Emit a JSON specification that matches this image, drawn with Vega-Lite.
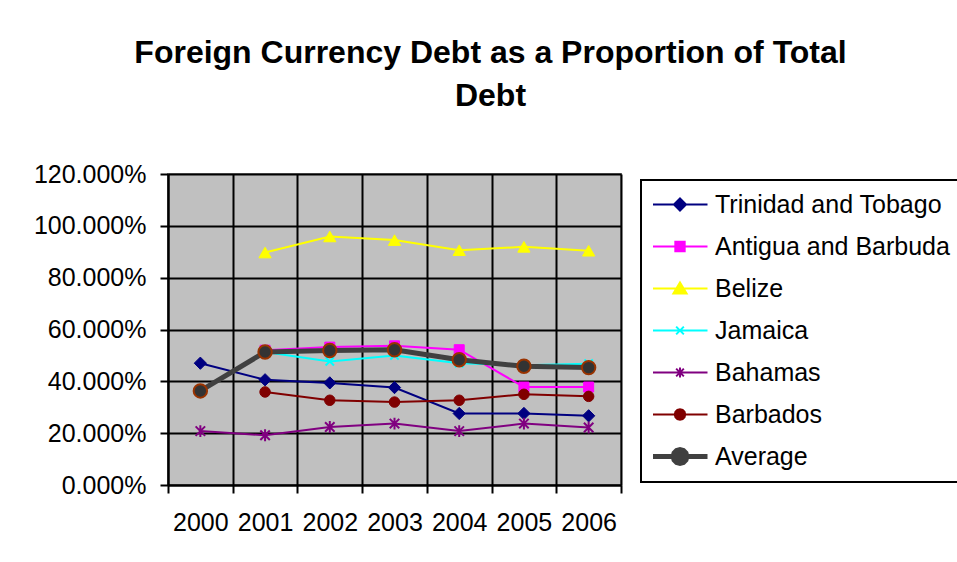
{
  "$schema": "https://vega.github.io/schema/vega-lite/v6.json",
  "autosize": {"type": "none"},
  "padding": {"left": 168, "top": 174, "right": 336, "bottom": 77},
  "width": 453,
  "height": 311,
  "background": "white",
  "config": {
    "font": "Liberation Sans",
    "view": {"fill": "#C0C0C0", "stroke": "#808080", "strokeWidth": 2},
    "axis": {
      "labelFontSize": 25, "labelColor": "black", "labelFont": "Liberation Sans",
      "tickColor": "black", "tickSize": 8, "tickWidth": 2,
      "domainColor": "black", "domainWidth": 2,
      "gridColor": "black", "gridWidth": 2, "gridOpacity": 1, "title": null
    },
    "legend": {"strokeColor": "black", "strokeWidth": 2, "fillColor": "white"}
  },
  "title": {
    "text": ["Foreign Currency Debt as a Proportion of Total", "Debt"],
    "font": "Liberation Sans", "fontSize": 32, "fontWeight": "bold", "color": "black",
    "anchor": "middle", "frame": "group", "dx": 96, "offset": 49, "lineHeight": 43
  },
  "data": {"values": [
    {"year": "2000", "series": "Trinidad and Tobago", "value": 0.47},
    {"year": "2001", "series": "Trinidad and Tobago", "value": 0.406},
    {"year": "2002", "series": "Trinidad and Tobago", "value": 0.394},
    {"year": "2003", "series": "Trinidad and Tobago", "value": 0.376},
    {"year": "2004", "series": "Trinidad and Tobago", "value": 0.276},
    {"year": "2005", "series": "Trinidad and Tobago", "value": 0.276},
    {"year": "2006", "series": "Trinidad and Tobago", "value": 0.267},
    {"year": "2001", "series": "Antigua and Barbuda", "value": 0.52},
    {"year": "2002", "series": "Antigua and Barbuda", "value": 0.532},
    {"year": "2003", "series": "Antigua and Barbuda", "value": 0.537},
    {"year": "2004", "series": "Antigua and Barbuda", "value": 0.522},
    {"year": "2005", "series": "Antigua and Barbuda", "value": 0.378},
    {"year": "2006", "series": "Antigua and Barbuda", "value": 0.378},
    {"year": "2001", "series": "Belize", "value": 0.897},
    {"year": "2002", "series": "Belize", "value": 0.959},
    {"year": "2003", "series": "Belize", "value": 0.945},
    {"year": "2004", "series": "Belize", "value": 0.906},
    {"year": "2005", "series": "Belize", "value": 0.919},
    {"year": "2006", "series": "Belize", "value": 0.904},
    {"year": "2000", "series": "Jamaica", "value": 0.365},
    {"year": "2001", "series": "Jamaica", "value": 0.513},
    {"year": "2002", "series": "Jamaica", "value": 0.477},
    {"year": "2003", "series": "Jamaica", "value": 0.5},
    {"year": "2004", "series": "Jamaica", "value": 0.47},
    {"year": "2005", "series": "Jamaica", "value": 0.462},
    {"year": "2006", "series": "Jamaica", "value": 0.468},
    {"year": "2000", "series": "Bahamas", "value": 0.208},
    {"year": "2001", "series": "Bahamas", "value": 0.192},
    {"year": "2002", "series": "Bahamas", "value": 0.224},
    {"year": "2003", "series": "Bahamas", "value": 0.237},
    {"year": "2004", "series": "Bahamas", "value": 0.208},
    {"year": "2005", "series": "Bahamas", "value": 0.237},
    {"year": "2006", "series": "Bahamas", "value": 0.222},
    {"year": "2001", "series": "Barbados", "value": 0.359},
    {"year": "2002", "series": "Barbados", "value": 0.327},
    {"year": "2003", "series": "Barbados", "value": 0.32},
    {"year": "2004", "series": "Barbados", "value": 0.327},
    {"year": "2005", "series": "Barbados", "value": 0.35},
    {"year": "2006", "series": "Barbados", "value": 0.342},
    {"year": "2000", "series": "Average", "value": 0.363},
    {"year": "2001", "series": "Average", "value": 0.513},
    {"year": "2002", "series": "Average", "value": 0.519},
    {"year": "2003", "series": "Average", "value": 0.522},
    {"year": "2004", "series": "Average", "value": 0.483},
    {"year": "2005", "series": "Average", "value": 0.458},
    {"year": "2006", "series": "Average", "value": 0.453}
  ]},
  "encoding": {
    "x": {
      "field": "year", "type": "ordinal",
      "scale": {"type": "band", "paddingInner": 0, "paddingOuter": 0},
      "axis": {"tickBand": "extent", "labelAngle": 0, "labelPadding": 17, "grid": true}
    },
    "y": {
      "field": "value", "type": "quantitative",
      "scale": {"domain": [0, 1.2], "nice": false, "zero": true},
      "axis": {"values": [0, 0.2, 0.4, 0.6, 0.8, 1.0, 1.2], "format": ".3%", "labelPadding": 14, "grid": true}
    }
  },
  "layer": [
    {
      "transform": [{"filter": "datum.series !== 'Average'"}],
      "mark": {"type": "line", "strokeWidth": 2},
      "encoding": {
        "color": {
          "field": "series", "type": "nominal",
          "scale": {
            "domain": ["Trinidad and Tobago", "Antigua and Barbuda", "Belize", "Jamaica", "Bahamas", "Barbados", "Average"],
            "range": ["#000080", "#FF00FF", "#FFFF00", "#00FFFF", "#800080", "#800000", "#404040"]
          },
          "legend": {
            "orient": "none", "legendX": 473, "legendY": 6,
            "title": null, "symbolType": "circle", "clipHeight": 25,
            "padding": 12, "rowPadding": 16, "symbolSize": 121,
            "symbolOffset": 14.5, "labelOffset": 22.5,
            "labelFontSize": 25, "labelFont": "Liberation Sans", "labelColor": "black", "labelLimit": 400,
            "encode": {
              "symbols": {
                "update": {
                  "shape": {"signal": "datum.value === 'Trinidad and Tobago' ? 'M-5,0H5M0,-1.1L1.1,0L0,1.1L-1.1,0Z' : datum.value === 'Antigua and Barbuda' ? 'M-5,0H5M-0.85,-0.85H0.85V0.85H-0.85Z' : datum.value === 'Belize' ? 'M-5,0H5M0,-1.1L1.2,0.9H-1.2Z' : datum.value === 'Jamaica' ? 'M-5,0H5M-0.7,-0.7L0.7,0.7M-0.7,0.7L0.7,-0.7' : datum.value === 'Bahamas' ? 'M-5,0H5M-0.7,-0.7L0.7,0.7M-0.7,0.7L0.7,-0.7M0,-0.9V0.9' : datum.value === 'Barbados' ? 'M-5,0H5M0.95,0L0.823,0.475L0.475,0.823L0,0.95L-0.475,0.823L-0.823,0.475L-0.95,0L-0.823,-0.475L-0.475,-0.823L0,-0.95L0.475,-0.823L0.823,-0.475Z' : 'M-5,0H5M1.25,0L1.083,0.625L0.625,1.083L0,1.25L-0.625,1.083L-1.083,0.625L-1.25,0L-1.083,-0.625L-0.625,-1.083L0,-1.25L0.625,-1.083L1.083,-0.625Z'"},
                  "fill": {"signal": "datum.value === 'Trinidad and Tobago' ? '#000080' : datum.value === 'Antigua and Barbuda' ? '#FF00FF' : datum.value === 'Belize' ? '#FFFF00' : datum.value === 'Jamaica' ? '#00FFFF' : datum.value === 'Bahamas' ? '#800080' : datum.value === 'Barbados' ? '#800000' : '#404040'"},
                  "stroke": {"signal": "datum.value === 'Trinidad and Tobago' ? '#000080' : datum.value === 'Antigua and Barbuda' ? '#FF00FF' : datum.value === 'Belize' ? '#FFFF00' : datum.value === 'Jamaica' ? '#00FFFF' : datum.value === 'Bahamas' ? '#800080' : datum.value === 'Barbados' ? '#800000' : '#404040'"},
                  "strokeWidth": {"signal": "datum.value === 'Average' ? 5 : 2"},
                  "opacity": {"value": 1},
                  "fillOpacity": {"value": 1},
                  "strokeOpacity": {"value": 1}
                }
              }
            }
          }
        }
      }
    },
    {
      "transform": [{"filter": "datum.series === 'Average'"}],
      "mark": {"type": "line", "strokeWidth": 5, "color": "#404040"},
      "encoding": {}
    },
    {
      "mark": {"type": "point", "filled": true, "opacity": 1},
      "encoding": {
        "shape": {
          "field": "series", "type": "nominal", "legend": null,
          "scale": {
            "domain": ["Average", "Barbados", "Bahamas", "Jamaica", "Belize", "Antigua and Barbuda", "Trinidad and Tobago"],
            "range": ["circle", "circle", "M-1,-1L1,1M-1,1L1,-1M0,-1.25V1.25", "M-1,-1L1,1M-1,1L1,-1", "triangle-up", "square", "diamond"]
          }
        },
        "fill": {
          "field": "series", "type": "nominal", "legend": null,
          "scale": {
            "domain": ["Average", "Barbados", "Bahamas", "Jamaica", "Belize", "Antigua and Barbuda", "Trinidad and Tobago"],
            "range": ["#333333", "#800000", "#800080", "#00FFFF", "#FFFF00", "#FF00FF", "#000080"]
          }
        },
        "stroke": {
          "field": "series", "type": "nominal", "legend": null,
          "scale": {
            "domain": ["Average", "Barbados", "Bahamas", "Jamaica", "Belize", "Antigua and Barbuda", "Trinidad and Tobago"],
            "range": ["#993300", "#800000", "#800080", "#00FFFF", "#FFFF00", "#FF00FF", "#000080"]
          }
        },
        "size": {
          "field": "series", "type": "nominal", "legend": null,
          "scale": {
            "type": "ordinal",
            "domain": ["Average", "Barbados", "Bahamas", "Jamaica", "Belize", "Antigua and Barbuda", "Trinidad and Tobago"],
            "range": [180, 110, 90, 70, 150, 100, 150]
          }
        },
        "strokeWidth": {
          "field": "series", "type": "nominal", "legend": null,
          "scale": {
            "type": "ordinal",
            "domain": ["Average", "Barbados", "Bahamas", "Jamaica", "Belize", "Antigua and Barbuda", "Trinidad and Tobago"],
            "range": [2, 1, 2, 2, 1, 1, 1]
          }
        }
      }
    }
  ]
}
